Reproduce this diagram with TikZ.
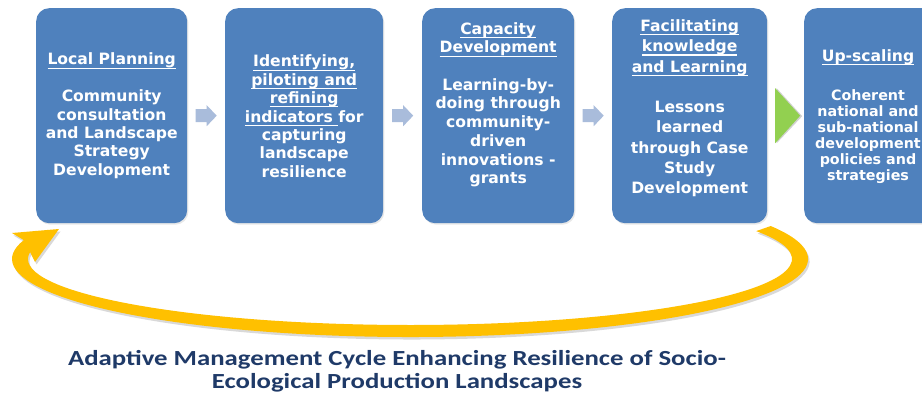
\documentclass[tikz,border=0pt]{standalone}
\usepackage{fontspec}
\usetikzlibrary{calc,shadows}
\newfontfamily\boxfont{DejaVu Sans}
\newfontfamily\captionfont{Carlito}
% underline at a fixed depth below the baseline
\newcommand{\headul}[1]{\leavevmode\setbox0\hbox{#1}\rlap{\rule[-3.8pt]{\wd0}{1.1pt}}\box0}
% caption lines are set slightly wide
\newcommand{\wideline}[1]{\scalebox{1.245}[1]{#1}}
\definecolor{boxblue}{HTML}{4F81BD}
\definecolor{arrowgray}{HTML}{A9BCDB}
\definecolor{upgreen}{HTML}{92D050}
\definecolor{cycleyellow}{HTML}{FFC000}
\definecolor{captionnavy}{HTML}{1F3A68}
\tikzset{
  stepbox/.style={rectangle, rounded corners=13pt, fill=boxblue, draw=none,
    minimum height=215pt, inner sep=0pt, anchor=north west,
    drop shadow={shadow xshift=1.2pt, shadow yshift=-1.5pt, opacity=0.18}},
  steptext/.style={text=white, align=center, inner sep=0pt,
    font=\boxfont\bfseries\fontsize{15.6}{18.4}\selectfont},
  pics/blockarrow/.style={code={
    \fill[arrowgray] (-10.5,-6.5) -- (0.5,-6.5) -- (0.5,-10.5) -- (10.5,0)
      -- (0.5,10.5) -- (0.5,6.5) -- (-10.5,6.5) -- cycle;}},
  caption/.style={text=captionnavy, align=center, inner sep=0pt,
    font=\captionfont\bfseries\fontsize{21.5}{23}\selectfont}
}
\begin{document}
\begin{tikzpicture}[x=1pt,y=1pt]
\useasboundingbox (0,0) rectangle (922,-398);
\clip (0,0) rectangle (922,-398);
\fill[white] (0,0) rectangle (922,-398);

% the five stages
\node[stepbox, minimum width=151pt] (b1) at (36,-8) {};
\node[stepbox, minimum width=158pt] (b2) at (225,-8) {};
\node[stepbox, minimum width=152pt] (b3) at (422,-8) {};
\node[stepbox, minimum width=155pt] (b4) at (612,-8) {};
\node[stepbox, minimum width=140pt] (b5) at (804,-8) {};

% stage texts
\node[steptext] (t1) at (b1.center)
  {\headul{Local Planning}\\[18.4pt]Community\\consultation\\and Landscape\\Strategy\\Development};
\node[steptext] (t2) at ($(b2.center)+(0,-0.5)$)
  {\headul{Identifying,}\\\headul{piloting and}\\\headul{refining}\\\headul{indicators }for\\capturing\\landscape\\resilience};
\node[steptext, font=\boxfont\bfseries\fontsize{15.6}{18.7}\selectfont] (t3) at ($(b3.center)+(0,11)$)
  {\headul{Capacity}\\\headul{Development}\\[18.7pt]Learning-by-\\doing through\\community-\\driven\\innovations -\\grants};
\node[steptext, font=\boxfont\bfseries\fontsize{15.6}{20.25}\selectfont] (t4) at ($(b4.center)+(0,7.5)$)
  {\headul{Facilitating}\\\headul{knowledge}\\\headul{and Learning}\\[20.25pt]Lessons\\learned\\through Case\\Study\\Development};
\node[steptext] (t5a) at (868,-57) {\headul{Up-scaling}};
\node[steptext, font=\boxfont\bfseries\fontsize{14.3}{16}\selectfont] (t5b) at (868,-137)
  {Coherent\\national and\\sub-national\\development\\policies and\\strategies};

% arrows between the stages
\pic at ($(b1.east)!0.5!(b2.west)$) {blockarrow};
\pic at ($(b2.east)!0.5!(b3.west)$) {blockarrow};
\pic at ($(b3.east)!0.5!(b4.west)$) {blockarrow};
\coordinate (g) at ($(b4.east)!0.5!(b5.west)$);
\fill[black, opacity=0.18] ($(g)+(-9,-27.5)$) -- ($(g)+(16.5,-0.5)$) -- ($(g)+(-9,27.5)$) -- cycle;
\fill[upgreen] ($(g)+(-10.5,-27.5)$) -- ($(g)+(14.5,0)$) -- ($(g)+(-10.5,27.5)$) -- cycle;

% feedback loop from the fourth stage back to the first
\begin{scope}[shift={(1.5,-2.5)}]
\fill[black, opacity=0.15]
  (410,-259) ++(25:398pt and 78pt)
  arc[start angle=25, end angle=-194, x radius=398pt, y radius=78pt]
  -- (12,-233) -- (59,-229) -- (35,-262) -- (30.1,-252.1)
  arc[start angle=-186, end angle=25, x radius=382pt, y radius=66pt]
  -- cycle;
\end{scope}
\fill[cycleyellow]
  (410,-259) ++(25:398pt and 78pt)
  arc[start angle=25, end angle=-194, x radius=398pt, y radius=78pt]
  -- (12,-233) -- (59,-229) -- (35,-262) -- (30.1,-252.1)
  arc[start angle=-186, end angle=25, x radius=382pt, y radius=66pt]
  -- cycle;

% caption
\node[caption] (cap) at (397,-371.5)
  {\wideline{Adaptive Management Cycle Enhancing Resilience of Socio-}\\\wideline{Ecological Production Landscapes}};
\end{tikzpicture}
\end{document}
